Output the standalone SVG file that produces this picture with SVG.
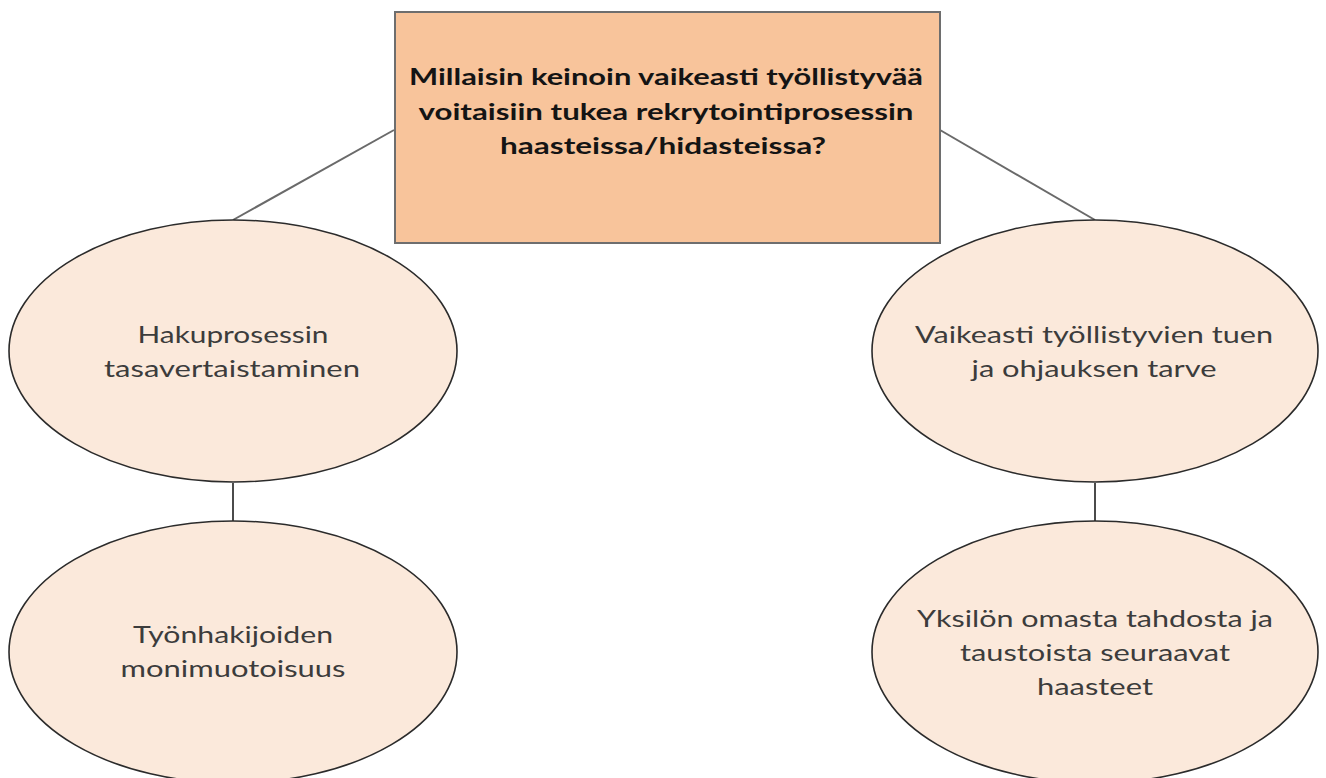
<svg xmlns="http://www.w3.org/2000/svg" width="1326" height="778" viewBox="0 0 1326 778">
<style>
.box{fill:#F8C49B;stroke:#6e6e6e;stroke-width:2}
.ell{fill:#FBE9DB;stroke:#2b2b2b;stroke-width:1.6}
.q{font-family:Lato,"Open Sans",sans-serif;font-weight:bold;font-size:23px;fill:#141414;text-anchor:middle}
.t{font-family:Lato,"Open Sans",sans-serif;font-size:23px;fill:#3c3c3c;text-anchor:middle}
.c1{stroke:#6a6a6a;stroke-width:2;fill:none}
.c2{stroke:#1e1e1e;stroke-width:1.6;fill:none}
</style>
<rect width="1326" height="778" fill="#ffffff"/>
<g id="connectors">
<line class="c1" x1="394" y1="130" x2="233" y2="220"/>
<line class="c1" x1="940" y1="130" x2="1095" y2="220"/>
<line class="c2" x1="233" y1="483" x2="233" y2="521"/>
<line class="c2" x1="1095" y1="483" x2="1095" y2="521"/>
</g>
<g id="root">
<rect class="box" x="395" y="12" width="545" height="231"/>
<text class="q" x="666" y="85" textLength="514" lengthAdjust="spacingAndGlyphs">Millaisin keinoin vaikeasti työllistyvää</text>
<text class="q" x="666" y="120" textLength="495" lengthAdjust="spacingAndGlyphs">voitaisiin tukea rekrytointiprosessin</text>
<text class="q" x="663" y="154" textLength="326" lengthAdjust="spacingAndGlyphs">haasteissa/hidasteissa?</text>
</g>
<g id="n1">
<ellipse class="ell" cx="233" cy="351" rx="224" ry="131"/>
<text class="t" x="233" y="343" textLength="191" lengthAdjust="spacingAndGlyphs">Hakuprosessin</text>
<text class="t" x="232" y="377" textLength="256" lengthAdjust="spacingAndGlyphs">tasavertaistaminen</text>
</g>
<g id="n2">
<ellipse class="ell" cx="1095" cy="351" rx="223" ry="131"/>
<text class="t" x="1094" y="343" textLength="358" lengthAdjust="spacingAndGlyphs">Vaikeasti työllistyvien tuen</text>
<text class="t" x="1094" y="377" textLength="245" lengthAdjust="spacingAndGlyphs">ja ohjauksen tarve</text>
</g>
<g id="n3">
<ellipse class="ell" cx="233" cy="652" rx="224" ry="131"/>
<text class="t" x="233" y="643" textLength="200" lengthAdjust="spacingAndGlyphs">Työnhakijoiden</text>
<text class="t" x="233" y="677" textLength="225" lengthAdjust="spacingAndGlyphs">monimuotoisuus</text>
</g>
<g id="n4">
<ellipse class="ell" cx="1095" cy="652" rx="223" ry="131"/>
<text class="t" x="1095" y="627" textLength="356" lengthAdjust="spacingAndGlyphs">Yksilön omasta tahdosta ja</text>
<text class="t" x="1095" y="661" textLength="270" lengthAdjust="spacingAndGlyphs">taustoista seuraavat</text>
<text class="t" x="1095" y="695" textLength="116" lengthAdjust="spacingAndGlyphs">haasteet</text>
</g>
</svg>
